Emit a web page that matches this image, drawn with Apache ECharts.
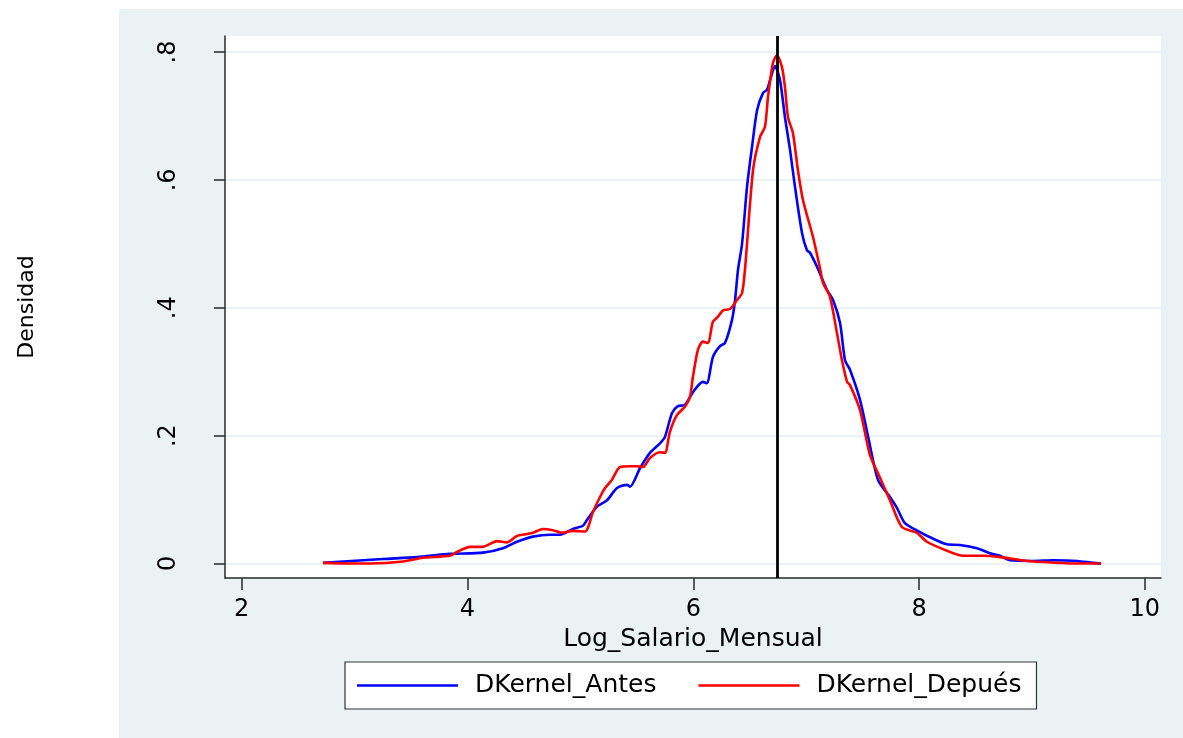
<!DOCTYPE html>
<html>
<head>
<meta charset="utf-8">
<title>Densidad kernel del log salario mensual</title>
<script src="https://cdn.jsdelivr.net/npm/echarts@6/dist/echarts.min.js"></script>
<style>
  html, body { margin: 0; padding: 0; background: #ffffff; }
  #chart { width: 1183px; height: 738px; }
</style>
</head>
<body>
<div id="chart"></div>
<script>
// Kernel density of log monthly wage, before and after: [log wage, density]
const dkernelAntes = [
  [2.720, 0.001], [3.252, 0.007], [3.553, 0.010], [3.845, 0.015], [4.137, 0.017],
  [4.314, 0.024], [4.438, 0.034], [4.580, 0.042], [4.731, 0.045], [4.819, 0.045],
  [4.934, 0.054], [5.023, 0.059], [5.058, 0.068], [5.147, 0.089], [5.236, 0.099],
  [5.324, 0.118], [5.413, 0.123], [5.439, 0.120], [5.528, 0.149], [5.616, 0.173],
  [5.705, 0.188], [5.749, 0.198], [5.811, 0.235], [5.864, 0.246], [5.926, 0.248],
  [5.997, 0.268], [6.085, 0.284], [6.120, 0.282], [6.174, 0.323], [6.236, 0.340],
  [6.281, 0.345], [6.343, 0.381], [6.370, 0.412], [6.396, 0.459], [6.432, 0.500],
  [6.476, 0.589], [6.520, 0.651], [6.565, 0.709], [6.618, 0.736], [6.653, 0.741],
  [6.680, 0.756], [6.724, 0.778], [6.768, 0.756], [6.812, 0.698], [6.857, 0.647],
  [6.901, 0.589], [6.963, 0.517], [7.007, 0.490], [7.034, 0.486], [7.096, 0.464],
  [7.184, 0.428], [7.238, 0.412], [7.300, 0.376], [7.344, 0.318], [7.388, 0.303],
  [7.477, 0.256], [7.548, 0.199], [7.636, 0.131], [7.742, 0.104], [7.804, 0.087],
  [7.875, 0.063], [8.008, 0.049], [8.097, 0.041], [8.247, 0.030], [8.362, 0.029],
  [8.513, 0.024], [8.628, 0.016], [8.717, 0.012], [8.806, 0.005], [9.010, 0.004],
  [9.187, 0.005], [9.400, 0.004], [9.541, 0.001], [9.612, 0.000]
];

const dkernelDepues = [
  [2.720, 0.001], [2.959, 0.000], [3.136, 0.000], [3.429, 0.003], [3.606, 0.009],
  [3.845, 0.012], [3.907, 0.018], [4.022, 0.026], [4.137, 0.026], [4.261, 0.035],
  [4.350, 0.033], [4.438, 0.043], [4.527, 0.046], [4.580, 0.048], [4.669, 0.054],
  [4.757, 0.052], [4.837, 0.048], [4.934, 0.051], [5.041, 0.050], [5.112, 0.081],
  [5.174, 0.104], [5.218, 0.118], [5.280, 0.131], [5.351, 0.151], [5.439, 0.152],
  [5.501, 0.152], [5.555, 0.151], [5.616, 0.165], [5.705, 0.174], [5.749, 0.173],
  [5.793, 0.206], [5.855, 0.232], [5.926, 0.245], [5.970, 0.260], [5.997, 0.292],
  [6.041, 0.334], [6.085, 0.347], [6.129, 0.345], [6.174, 0.378], [6.219, 0.386],
  [6.263, 0.396], [6.325, 0.398], [6.387, 0.412], [6.432, 0.423], [6.459, 0.462],
  [6.529, 0.615], [6.591, 0.667], [6.635, 0.683], [6.662, 0.730], [6.706, 0.783],
  [6.741, 0.795], [6.786, 0.776], [6.812, 0.745], [6.839, 0.698], [6.883, 0.673],
  [6.927, 0.615], [6.972, 0.568], [7.060, 0.511], [7.122, 0.462], [7.149, 0.439],
  [7.211, 0.417], [7.273, 0.360], [7.317, 0.318], [7.362, 0.284], [7.388, 0.279],
  [7.477, 0.240], [7.565, 0.170], [7.654, 0.134], [7.742, 0.099], [7.848, 0.057],
  [7.981, 0.048], [8.069, 0.034], [8.247, 0.020], [8.389, 0.012], [8.566, 0.012],
  [8.717, 0.010], [8.956, 0.004], [9.248, 0.001], [9.363, 0.000], [9.612, 0.000]
];

// Reference line (mode of the distribution)
const referenceLineX = 6.74;

// Axis ticks
const xTicks = [2, 4, 6, 8, 10];
const yTicks = [0, 0.2, 0.4, 0.6, 0.8];

const seriesNames = ['DKernel_Antes', 'DKernel_Depués'];
const xTitle = 'Log_Salario_Mensual';
const yTitle = 'Densidad';

const FONT = 'DejaVu Sans';
const BG = '#eaf2f3';
const AXIS = '#2a2a2a';

const chart = echarts.init(document.getElementById('chart'), null, { renderer: 'canvas' });

chart.setOption({
  animation: false,
  graphic: [{
    type: 'rect',
    z: -100,
    silent: true,
    shape: { x: 119, y: 9, width: 1064, height: 729 },
    style: { fill: BG }
  }],
  grid: {
    left: 225, right: 22, top: 36, bottom: 160,
    show: true, backgroundColor: '#ffffff', borderWidth: 0
  },
  legend: {
    left: 345, top: 662,
    data: seriesNames,
    icon: 'rect',
    itemWidth: 101, itemHeight: 2.4, itemGap: 42,
    padding: [11, 15, 11, 12],
    backgroundColor: '#ffffff',
    borderColor: '#333333', borderWidth: 1.2, borderRadius: 0,
    textStyle: { fontFamily: FONT, fontSize: 25, color: '#000', padding: [0, 0, 0, 12] }
  },
  xAxis: {
    type: 'value',
    min: 1.852, max: 10.143,
    name: xTitle, nameLocation: 'middle', nameGap: 44,
    nameTextStyle: { fontFamily: FONT, fontSize: 25, color: '#000' },
    axisLine: { show: true, onZero: false, lineStyle: { color: AXIS, width: 1.5 } },
    axisTick: { show: true, length: 12, lineStyle: { color: AXIS, width: 1.5 }, customValues: xTicks },
    axisLabel: { fontFamily: FONT, fontSize: 24, color: '#000', margin: 20, customValues: xTicks },
    splitLine: { show: false }
  },
  yAxis: {
    type: 'value',
    min: -0.0227, max: 0.825,
    name: yTitle, nameLocation: 'middle', nameGap: 187,
    nameTextStyle: { fontFamily: FONT, fontSize: 22, color: '#000' },
    axisLine: { show: true, onZero: false, lineStyle: { color: AXIS, width: 1.5 } },
    axisTick: { show: true, length: 11, lineStyle: { color: AXIS, width: 1.5 }, customValues: yTicks },
    axisLabel: {
      fontFamily: FONT, fontSize: 24, color: '#000', margin: 44, rotate: 90,
      customValues: yTicks,
      formatter: v => (v === 0 ? '0' : String(+v.toFixed(1)).replace(/^0/, ''))
    },
    splitLine: { show: true, lineStyle: { color: BG, width: 2 } }
  },
  series: [
    {
      name: seriesNames[0], type: 'line', data: dkernelAntes,
      symbol: 'none', smooth: 0.25,
      lineStyle: { color: '#0000ff', width: 2.6 }, itemStyle: { color: '#0000ff' },
      z: 3
    },
    {
      name: seriesNames[1], type: 'line', data: dkernelDepues,
      symbol: 'none', smooth: 0.25,
      lineStyle: { color: '#ff0000', width: 2.6 }, itemStyle: { color: '#ff0000' },
      z: 4,
      markLine: {
        silent: true, symbol: 'none', label: { show: false },
        lineStyle: { color: '#000000', width: 2.8, type: 'solid' },
        data: [{ xAxis: referenceLineX }]
      }
    }
  ]
});
</script>
</body>
</html>
